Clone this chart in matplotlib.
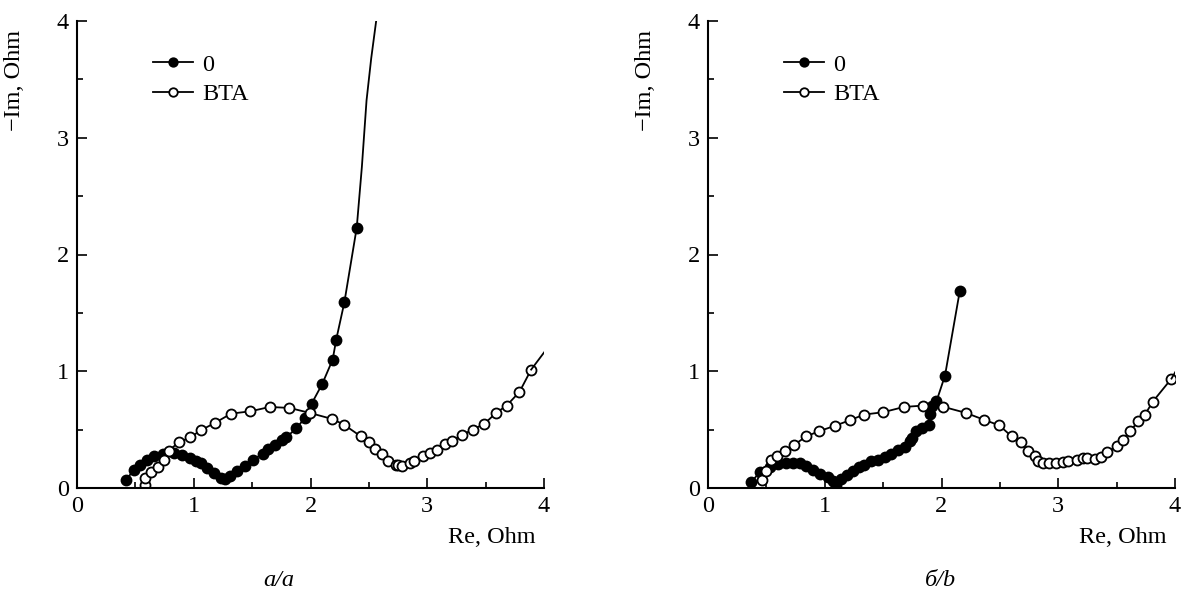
import numpy as np
import matplotlib
matplotlib.use("Agg")
from matplotlib import pyplot as plt
from matplotlib.ticker import MultipleLocator

plt.rcParams['font.family'] = ['Liberation Serif', 'DejaVu Serif']
plt.rcParams['font.size'] = 17.5

# panel a, "0" (filled)
a0_re = [0.42, 0.486, 0.543, 0.60, 0.657, 0.74, 0.83, 0.90, 0.97, 1.02, 1.06, 1.11, 1.17, 1.23, 1.27,
         1.31, 1.37, 1.44, 1.51, 1.59, 1.64, 1.70, 1.76, 1.79, 1.88, 1.95, 2.01, 2.10, 2.19, 2.22, 2.29, 2.396]
a0_im = [0.066, 0.157, 0.20, 0.237, 0.27, 0.29, 0.30, 0.286, 0.257, 0.235, 0.214, 0.17, 0.13, 0.086, 0.077,
         0.10, 0.143, 0.19, 0.243, 0.294, 0.33, 0.37, 0.414, 0.434, 0.51, 0.60, 0.723, 0.89, 1.10, 1.27, 1.59, 2.23]
a0_tail_re = [2.396, 2.44, 2.48, 2.52, 2.565]
a0_tail_im = [2.23, 2.75, 3.32, 3.68, 4.02]

# panel a, BTA (open)
aB_re = [0.586, 0.586, 0.63, 0.69, 0.743, 0.786, 0.87, 0.97, 1.06, 1.18, 1.32, 1.486, 1.65, 1.82, 1.994,
         2.186, 2.286, 2.43, 2.50, 2.55, 2.61, 2.66, 2.73, 2.75, 2.78, 2.85, 2.89, 2.96, 3.02, 3.086,
         3.15, 3.21, 3.30, 3.39, 3.49, 3.59, 3.68, 3.79, 3.89]
aB_im = [0.023, 0.086, 0.134, 0.18, 0.237, 0.32, 0.39, 0.434, 0.494, 0.557, 0.637, 0.657, 0.694, 0.686, 0.643,
         0.591, 0.543, 0.443, 0.39, 0.334, 0.29, 0.229, 0.20, 0.194, 0.19, 0.214, 0.234, 0.27, 0.30, 0.329,
         0.38, 0.40, 0.457, 0.50, 0.551, 0.643, 0.706, 0.823, 1.014]
aB_tail_re = [3.89, 4.03]
aB_tail_im = [1.014, 1.20]

# panel b, "0" (filled)
b0_re = [0.37, 0.443, 0.53, 0.60, 0.67, 0.73, 0.786, 0.843, 0.90, 0.96, 1.03, 1.07, 1.10, 1.14, 1.19,
         1.24, 1.29, 1.34, 1.40, 1.457, 1.514, 1.57, 1.63, 1.686, 1.73, 1.75, 1.78, 1.83, 1.89, 1.90,
         1.92, 1.957, 2.03, 2.157]
b0_im = [0.051, 0.134, 0.18, 0.206, 0.214, 0.214, 0.214, 0.186, 0.151, 0.123, 0.094, 0.057, 0.023, 0.077, 0.114,
         0.143, 0.18, 0.20, 0.229, 0.237, 0.266, 0.294, 0.323, 0.351, 0.40, 0.43, 0.486, 0.514, 0.543, 0.637,
         0.70, 0.743, 0.963, 1.69]

# panel b, BTA (open)
bB_re = [0.463, 0.50, 0.537, 0.59, 0.66, 0.74, 0.843, 0.95, 1.09, 1.214, 1.337, 1.50, 1.677, 1.843, 2.01,
         2.21, 2.36, 2.494, 2.60, 2.68, 2.74, 2.80, 2.83, 2.87, 2.92, 2.98, 3.04, 3.086, 3.157, 3.21,
         3.25, 3.314, 3.37, 3.42, 3.50, 3.557, 3.614, 3.686, 3.743, 3.81, 3.97]
bB_im = [0.071, 0.143, 0.237, 0.277, 0.32, 0.371, 0.443, 0.486, 0.534, 0.58, 0.629, 0.649, 0.694, 0.706, 0.697,
         0.643, 0.586, 0.537, 0.443, 0.39, 0.32, 0.27, 0.229, 0.214, 0.214, 0.214, 0.223, 0.234, 0.243, 0.257,
         0.257, 0.251, 0.266, 0.309, 0.357, 0.409, 0.486, 0.571, 0.629, 0.74, 0.937]
bB_tail_re = [3.97, 4.03]
bB_tail_im = [0.937, 1.04]

captions = ['а/a', 'б/b']

fig = plt.figure(figsize=(11.81, 5.98), dpi=100)
ax1 = fig.add_axes([77 / 1181, 110 / 598, 467 / 1181, 467 / 598])
ax2 = fig.add_axes([708 / 1181, 110 / 598, 467 / 1181, 467 / 598])

mk = dict(markersize=7.2, markeredgewidth=1.3, color='black', lw=1.3)

def draw(ax, r0, i0, rB, iB, tails):
    ax.plot(r0, i0, '-o', markerfacecolor='black', label='0', **mk)
    ax.plot(rB, iB, '-o', markerfacecolor='white', label='BTA', **mk)
    for tx, ty in tails:
        ax.plot(tx, ty, '-', color='black', lw=1.3)
    ax.set_xlim(0, 4)
    ax.set_ylim(0, 4)
    for s in ['top', 'right']:
        ax.spines[s].set_visible(False)
    for s in ['left', 'bottom']:
        ax.spines[s].set_linewidth(1.5)
    ax.xaxis.set_major_locator(MultipleLocator(1))
    ax.xaxis.set_minor_locator(MultipleLocator(0.5))
    ax.yaxis.set_major_locator(MultipleLocator(1))
    ax.yaxis.set_minor_locator(MultipleLocator(0.5))
    ax.tick_params(which='major', direction='in', length=7.5, width=1.2, pad=6)
    ax.tick_params(which='minor', direction='in', length=4, width=1.2)
    ax.text(0.981, -0.107, 'Re, Ohm', transform=ax.transAxes, ha='right', va='center')
    ax.text(-0.133, 0.98, '\u2212Im, Ohm', transform=ax.transAxes, ha='center', va='top', rotation=90)
    ax.legend(loc='upper left', bbox_to_anchor=(0.163, 0.93), frameon=False, borderaxespad=0,
              handlelength=1.65, handletextpad=0.37, labelspacing=0.3, borderpad=0, markerscale=0.85)

draw(ax1, a0_re, a0_im, aB_re, aB_im, [(a0_tail_re, a0_tail_im), (aB_tail_re, aB_tail_im)])
draw(ax2, b0_re, b0_im, bB_re, bB_im, [(bB_tail_re, bB_tail_im)])

fig.text(279 / 1181, 1 - 581 / 598, captions[0], ha='center', va='center', style='italic')
fig.text(940 / 1181, 1 - 581 / 598, captions[1], ha='center', va='center', style='italic')

fig.savefig('out.png', dpi=100)
